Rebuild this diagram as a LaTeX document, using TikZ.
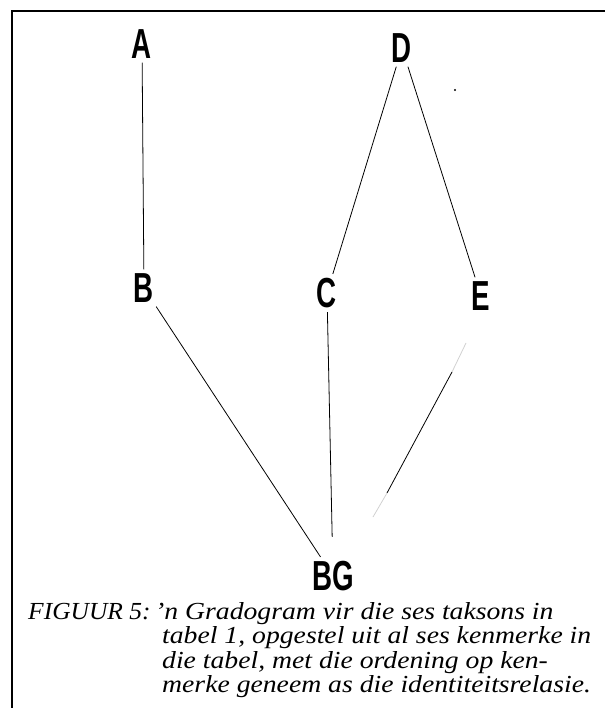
\documentclass[tikz,border=0pt]{standalone}
\usepackage{fontspec}
\setmainfont{Liberation Serif}
\newfontfamily\labelfont{Liberation Sans Bold}
\usetikzlibrary{calc}
\begin{document}
\begin{tikzpicture}[x=1pt,y=-1pt,
  taxon/.style={inner sep=4pt, font=\labelfont\fontsize{42}{42}\selectfont},
  edge/.style={line width=0.8pt, black},
  faint/.style={line width=0.8pt, black!18},
  frame/.style={line width=2.5pt},
  captext/.style={anchor=base west, inner sep=0pt, font=\itshape\fontsize{24.5}{24}\selectfont}]
\useasboundingbox (0,0) rectangle (604,708);
% frame
\draw[frame] (12,708) -- (12,11) -- (610,11);
% taxa
\node[taxon] (A) at (142,44) {\scalebox{0.66}[1]{A}};
\node[taxon] (D) at (402,48) {\scalebox{0.66}[1]{D}};
\node[taxon] (B) at (144,288) {\scalebox{0.66}[1]{B}};
\node[taxon] (C) at (327,293) {\scalebox{0.66}[1]{C}};
\node[taxon] (E) at (481,296) {\scalebox{0.66}[1]{E}};
\node[taxon] (BG) at (333,576) {\scalebox{0.66}[1]{BG}};
% connectors
\draw[edge] (A) -- (B);
\draw[edge] (D) -- (C);
\draw[edge] (D) -- (E);
\draw[edge] (B) -- (BG);
\draw[edge, shorten >=20pt] (C) -- (BG);
% E -- BG, partly faded in print
\coordinate (e0) at (466,343);
\coordinate (e1) at (452,372);
\coordinate (e2) at (387,493);
\coordinate (e3) at (373,517);
\draw[faint] (e0) -- (e1);
\draw[edge] (e1) -- (e2);
\draw[faint] (e2) -- (e3);
% speck
\fill (455,90) circle (1.2);
% caption
\node[captext] (fig) at (28,619) {\scalebox{1.04}[1]{FIGUUR 5:}};
\node[captext] (l1) at (155,619) {\scalebox{1.13}[1]{'n Gradogram vir die ses taksons in}};
\node[captext] (l2) at (162,643.5) {\scalebox{1.13}[1]{tabel 1, opgestel uit al ses kenmerke in}};
\node[captext] (l3) at (162,668) {\scalebox{1.13}[1]{die tabel, met die ordening op ken-}};
\node[captext] (l4) at (162,692.5) {\scalebox{1.13}[1]{merke geneem as die identiteitsrelasie.}};
\end{tikzpicture}
\end{document}
